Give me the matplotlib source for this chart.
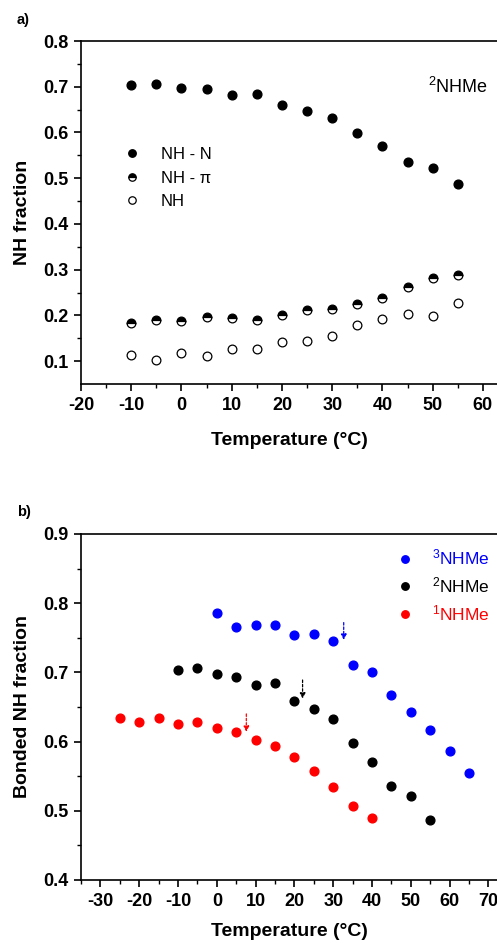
import numpy as np
from matplotlib import pyplot as plt

plt.rcParams['font.family'] = ['Liberation Sans', 'DejaVu Sans']
plt.rcParams['axes.unicode_minus'] = False
plt.rcParams['mathtext.fontset'] = 'custom'
plt.rcParams['mathtext.rm'] = 'Liberation Sans'
plt.rcParams['mathtext.it'] = 'Liberation Sans:italic'
plt.rcParams['mathtext.bf'] = 'Liberation Sans:bold'

# panel a) : NH populations of 2NHMe
temp_a = [-10, -5, 0, 5, 10, 15, 20, 25, 30, 35, 40, 45, 50, 55]
nh_n = [0.704, 0.707, 0.697, 0.694, 0.682, 0.684, 0.659, 0.647, 0.632,
        0.598, 0.571, 0.536, 0.522, 0.487]
nh_pi = [0.184, 0.191, 0.187, 0.196, 0.194, 0.191, 0.201, 0.212, 0.213,
         0.225, 0.237, 0.263, 0.282, 0.288]
nh_free = [0.113, 0.103, 0.118, 0.111, 0.127, 0.127, 0.141, 0.145, 0.156,
           0.179, 0.193, 0.204, 0.198, 0.227]

# panel b) : bonded NH fraction for three compounds
temp_3 = [0, 5, 10, 15, 20, 25, 30, 35, 40, 45, 50, 55, 60, 65]
bonded_3 = [0.786, 0.766, 0.768, 0.768, 0.754, 0.756, 0.745, 0.711, 0.700,
            0.667, 0.643, 0.617, 0.587, 0.555]
temp_2 = temp_a
bonded_2 = nh_n
temp_1 = [-25, -20, -15, -10, -5, 0, 5, 10, 15, 20, 25, 30, 35, 40]
bonded_1 = [0.634, 0.629, 0.634, 0.625, 0.629, 0.620, 0.614, 0.602, 0.593,
            0.578, 0.557, 0.534, 0.507, 0.489]

# transition markers (temperature, arrow top, arrow tip)
trans_t = [32.7, 22.1, 7.6]
trans_top = [0.772, 0.689, 0.640]
trans_tip = [0.747, 0.662, 0.614]
colors = ['#0000ff', 'black', '#ff0000']
names = [r'$^{3}$NHMe', r'$^{2}$NHMe', r'$^{1}$NHMe']

W, H = 497, 943
fig = plt.figure(figsize=(W / 100, H / 100), dpi=100)


def px_axes(left, top, right, bottom):
    return fig.add_axes([left / W, 1 - bottom / H, (right - left) / W,
                         (bottom - top) / H])


def style(ax):
    ax.spines['right'].set_visible(False)
    for s in ['top', 'left', 'bottom']:
        ax.spines[s].set_linewidth(1.2)
    ax.tick_params(which='major', direction='out', length=5, width=1.2,
                   labelsize=13, pad=4, top=False, right=False)
    ax.tick_params(which='minor', direction='out', length=3, width=1.0)
    for lab in ax.get_xticklabels() + ax.get_yticklabels():
        lab.set_fontweight('bold')


# ---------- a) ----------
ax1 = px_axes(81, 41, 497, 384)
ms = 6.3
ax1.plot(temp_a, nh_n, 'o', color='black', ms=ms, label='NH - N')
ax1.plot(temp_a, nh_pi, 'o', color='black', ms=ms, fillstyle='top',
         markerfacecoloralt='white', mec='black', mew=0.9, label='NH - π')
ax1.plot(temp_a, nh_free, 'o', mfc='white', mec='black', ms=ms, mew=0.9,
         label='NH')
ax1.set_xlim(-20, 62.8)
ax1.set_ylim(0.05, 0.8)
ax1.set_xticks(np.arange(-20, 61, 10))
ax1.set_xticks(np.arange(-15, 61, 10), minor=True)
ax1.set_yticks(np.arange(0.1, 0.81, 0.1))
ax1.set_yticks(np.arange(0.15, 0.8, 0.1), minor=True)
ax1.yaxis.set_major_formatter(plt.FormatStrFormatter('%.1f'))
style(ax1)
ax1.set_xlabel('Temperature (°C)', fontsize=14, fontweight='bold', labelpad=13)
ax1.set_ylabel('NH fraction', fontsize=14, fontweight='bold', labelpad=9)
ax1.legend(loc='upper left', bbox_to_anchor=(0.103, 0.69), frameon=False,
           fontsize=12, handlelength=1.0, handletextpad=1.2,
           labelspacing=0.5, borderpad=0, borderaxespad=0, markerscale=0.85)
ax1.text(0.835, 0.865, names[1], transform=ax1.transAxes, fontsize=13,
         va='center', ha='left')
fig.text(17 / W, 1 - 20 / H, 'a)', fontsize=10.5, fontweight='bold',
         va='center')

# ---------- b) ----------
ax2 = px_axes(81, 534, 497, 880)
for t, y, c, n in zip([temp_3, temp_2, temp_1], [bonded_3, bonded_2, bonded_1],
                      colors, names):
    ax2.plot(t, y, 'o', color=c, ms=ms, label=n)
for t, y0, y1, c in zip(trans_t, trans_top, trans_tip, colors):
    ax2.annotate('', xy=(t, y1), xytext=(t, y0),
                 arrowprops=dict(arrowstyle='-|>', color=c, lw=0.9,
                                 linestyle=(0, (2, 1.5)), mutation_scale=8,
                                 shrinkA=0, shrinkB=0))
ax2.set_xlim(-35, 72.2)
ax2.set_ylim(0.4, 0.9)
ax2.set_xticks(np.arange(-30, 71, 10))
ax2.set_xticks(np.arange(-35, 71, 10), minor=True)
ax2.set_yticks(np.arange(0.4, 0.91, 0.1))
ax2.set_yticks(np.arange(0.45, 0.9, 0.1), minor=True)
ax2.yaxis.set_major_formatter(plt.FormatStrFormatter('%.1f'))
style(ax2)
ax2.set_xlabel('Temperature (°C)', fontsize=14, fontweight='bold', labelpad=10)
ax2.set_ylabel('Bonded NH fraction', fontsize=14, fontweight='bold', labelpad=9)
leg2 = ax2.legend(loc='upper left', bbox_to_anchor=(0.757, 0.96),
                  frameon=False, fontsize=12.5, handlelength=1.0,
                  handletextpad=1.1, labelspacing=0.45, borderpad=0,
                  borderaxespad=0, markerscale=0.85)
for txt, c in zip(leg2.get_texts(), colors):
    txt.set_color(c)
fig.text(17 / W, 1 - 512 / H, 'b)', fontsize=10.5, fontweight='bold',
         va='center')

fig.savefig('out.png', dpi=100)
